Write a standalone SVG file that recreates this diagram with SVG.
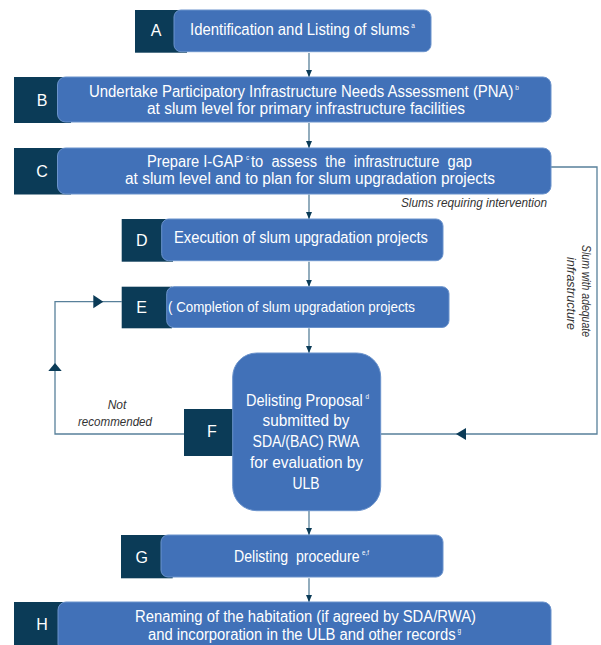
<svg xmlns="http://www.w3.org/2000/svg" width="601" height="645" viewBox="0 0 601 645">
<style>
.dk{fill:#0b3b57}
.bl{fill:#4171b8;stroke:#6b93cc;stroke-width:1}
.t{font-family:"Liberation Sans",Arial,sans-serif;font-size:16px;fill:#ffffff}
.lb{font-family:"Liberation Sans",Arial,sans-serif;font-size:16px;fill:#ffffff;text-anchor:middle}
.s{font-size:7px}
.it{font-family:"Liberation Sans",Arial,sans-serif;font-size:12px;font-style:italic;fill:#333333}
.ln{fill:none;stroke:#58809a;stroke-width:1.3}
.ah{fill:#0b3b57}
</style>
<defs>
<marker id="m" markerUnits="userSpaceOnUse" markerWidth="7" markerHeight="6" refX="7" refY="3" orient="auto"><path d="M0,0L7,3L0,6z" fill="#0b3b57"/></marker>
</defs>
<g id="connectors">
<line class="ln" x1="309" y1="53" x2="309" y2="77" marker-end="url(#m)"/>
<line class="ln" x1="309" y1="123" x2="309" y2="148" marker-end="url(#m)"/>
<line class="ln" x1="309" y1="194.5" x2="309" y2="219" marker-end="url(#m)"/>
<line class="ln" x1="309" y1="261.7" x2="309" y2="286.7" marker-end="url(#m)"/>
<line class="ln" x1="309" y1="328.3" x2="309" y2="353" marker-end="url(#m)"/>
<line class="ln" x1="309" y1="510.7" x2="309" y2="535" marker-end="url(#m)"/>
<line class="ln" x1="309" y1="578.3" x2="309" y2="602" marker-end="url(#m)"/>
<path class="ln" d="M551,167H597V434H381"/>
<polygon class="ah" points="456,434 466,428 466,440"/>
<path class="ln" d="M184,434H55V301.7H121.7"/>
<polygon class="ah" points="55,363 48.3,371 61.7,371"/>
<polygon class="ah" points="103.3,301.7 93.3,295 93.3,308.3"/>
<text class="it" x="401" y="207" textLength="146" lengthAdjust="spacingAndGlyphs">Slums requiring intervention</text>
<text class="it" x="117" y="409" text-anchor="middle">Not</text>
<text class="it" x="115" y="426" text-anchor="middle" textLength="74" lengthAdjust="spacingAndGlyphs">recommended</text>
<text class="it" transform="translate(582,291) rotate(90)" text-anchor="middle" textLength="92" lengthAdjust="spacingAndGlyphs">Slum with adequate</text>
<text class="it" transform="translate(567,293.5) rotate(90)" text-anchor="middle" textLength="73" lengthAdjust="spacingAndGlyphs">infrastructure</text>
</g>
<g id="A">
<rect class="dk" x="135" y="10" width="52" height="42.7"/>
<rect class="bl" x="174" y="10" width="257" height="41.7" rx="7"/>
<text class="lb" x="156" y="36">A</text>
<text class="t" x="190" y="35" textLength="225" lengthAdjust="spacingAndGlyphs">Identification and Listing of slums<tspan class="s" dx="2" dy="-7">a</tspan></text>
</g>
<g id="B">
<rect class="dk" x="14" y="77" width="57" height="46"/>
<rect class="bl" x="57.5" y="77" width="493.5" height="45" rx="8"/>
<text class="lb" x="42" y="106">B</text>
<text class="t" x="89" y="96.5" textLength="430" lengthAdjust="spacingAndGlyphs">Undertake Participatory Infrastructure Needs Assessment (PNA)<tspan class="s" dx="2" dy="-7">b</tspan></text>
<text class="t" x="147" y="113.5" textLength="318" lengthAdjust="spacingAndGlyphs">at slum level for primary infrastructure facilities</text>
</g>
<g id="C">
<rect class="dk" x="14" y="148" width="57" height="46.5"/>
<rect class="bl" x="57.5" y="148" width="493.5" height="46" rx="8"/>
<text class="lb" x="42" y="177">C</text>
<text class="t" x="147" y="166.5" textLength="325" lengthAdjust="spacingAndGlyphs" xml:space="preserve">Prepare I-GAP<tspan class="s" dx="3" dy="-7">c</tspan><tspan dx="2" dy="7">to  assess  the  infrastructure  gap</tspan></text>
<text class="t" x="125" y="183.5" textLength="370" lengthAdjust="spacingAndGlyphs">at slum level and to plan for slum upgradation projects</text>
</g>
<g id="D">
<rect class="dk" x="121.7" y="219" width="51.3" height="42.7"/>
<rect class="bl" x="161.7" y="219" width="281.3" height="41.7" rx="7"/>
<text class="lb" x="141.7" y="246">D</text>
<text class="t" x="174" y="243" textLength="254" lengthAdjust="spacingAndGlyphs">Execution of slum upgradation projects</text>
</g>
<g id="E">
<rect class="dk" x="121.7" y="286.7" width="50.3" height="41.6"/>
<rect class="bl" x="166.7" y="286.7" width="282.3" height="40.8" rx="7"/>
<text class="lb" x="141.7" y="313">E</text>
<text class="t" x="168" y="312" style="font-size:15px" textLength="247" lengthAdjust="spacingAndGlyphs">( Completion of slum upgradation projects</text>
</g>
<g id="F">
<rect class="dk" x="184" y="409" width="50" height="47"/>
<rect class="bl" x="232.7" y="353" width="148" height="157.7" rx="24"/>
<text class="lb" x="212" y="437">F</text>
<text class="t" x="246" y="405.5" textLength="123" lengthAdjust="spacingAndGlyphs">Delisting Proposal<tspan class="s" dx="3" dy="-7">d</tspan></text>
<text class="lb" x="306" y="426" textLength="87" lengthAdjust="spacingAndGlyphs">submitted by</text>
<text class="lb" x="306" y="447" textLength="107" lengthAdjust="spacingAndGlyphs">SDA/(BAC) RWA</text>
<text class="lb" x="306.5" y="468" textLength="113" lengthAdjust="spacingAndGlyphs">for evaluation by</text>
<text class="lb" x="306" y="489" textLength="27" lengthAdjust="spacingAndGlyphs">ULB</text>
</g>
<g id="G">
<rect class="dk" x="121" y="535" width="51.7" height="43.3"/>
<rect class="bl" x="161" y="535" width="282" height="42" rx="7"/>
<text class="lb" x="141.7" y="563">G</text>
<text class="t" x="234" y="561.7" textLength="135" lengthAdjust="spacingAndGlyphs" xml:space="preserve">Delisting  procedure<tspan class="s" dx="3" dy="-7">e,f</tspan></text>
</g>
<g id="H">
<rect class="dk" x="14" y="602" width="56" height="50"/>
<rect class="bl" x="58" y="602" width="493" height="50" rx="8"/>
<text class="lb" x="42" y="630">H</text>
<text class="t" x="135" y="621.7" textLength="341" lengthAdjust="spacingAndGlyphs">Renaming of the habitation (if agreed by SDA/RWA)</text>
<text class="t" x="148" y="640" textLength="313" lengthAdjust="spacingAndGlyphs">and incorporation in the ULB and other records<tspan class="s" dx="2" dy="-7">g</tspan></text>
</g>
</svg>
